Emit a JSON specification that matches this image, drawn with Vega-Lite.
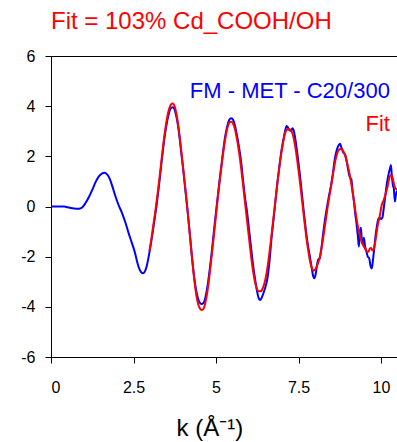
{
  "$schema": "https://vega.github.io/schema/vega-lite/v6.json",
  "autosize": "none",
  "width": 347,
  "height": 301,
  "padding": {"left": 51, "top": 56, "right": 0, "bottom": 85},
  "config": {
    "font": "Liberation Sans",
    "view": {"stroke": "black", "strokeWidth": 1},
    "axis": {
      "grid": false,
      "domainColor": "black",
      "tickColor": "black",
      "labelColor": "black",
      "titleColor": "black",
      "labelFont": "Liberation Sans",
      "titleFont": "Liberation Sans",
      "labelFontSize": 16,
      "tickSize": 6
    }
  },
  "title": {
    "text": "Fit = 103% Cd_COOH/OH",
    "anchor": "start",
    "frame": "group",
    "color": "#ff0000",
    "fontSize": 24,
    "fontWeight": "normal",
    "font": "Liberation Sans",
    "baseline": "alphabetic",
    "offset": -5
  },
  "datasets": {
    "measured": [
      {"k": 0.00, "chi": 0.00}, {"k": 0.20, "chi": 0.00}, {"k": 0.40, "chi": 0.00},
      {"k": 0.50, "chi": -0.03}, {"k": 0.60, "chi": -0.06}, {"k": 0.70, "chi": -0.08},
      {"k": 0.80, "chi": -0.09}, {"k": 0.88, "chi": -0.08}, {"k": 0.95, "chi": -0.03},
      {"k": 1.05, "chi": 0.15}, {"k": 1.15, "chi": 0.38}, {"k": 1.25, "chi": 0.66},
      {"k": 1.35, "chi": 0.97}, {"k": 1.45, "chi": 1.20}, {"k": 1.55, "chi": 1.32},
      {"k": 1.62, "chi": 1.35}, {"k": 1.70, "chi": 1.28}, {"k": 1.78, "chi": 1.10},
      {"k": 1.86, "chi": 0.80}, {"k": 1.95, "chi": 0.42}, {"k": 2.05, "chi": 0.05},
      {"k": 2.15, "chi": -0.25}, {"k": 2.25, "chi": -0.62}, {"k": 2.35, "chi": -1.05},
      {"k": 2.45, "chi": -1.45}, {"k": 2.55, "chi": -1.87}, {"k": 2.62, "chi": -2.25},
      {"k": 2.68, "chi": -2.50}, {"k": 2.74, "chi": -2.63}, {"k": 2.79, "chi": -2.66},
      {"k": 2.84, "chi": -2.60}, {"k": 2.90, "chi": -2.38}, {"k": 2.96, "chi": -2.00},
      {"k": 3.02, "chi": -1.55}, {"k": 3.08, "chi": -1.05}, {"k": 3.14, "chi": -0.50},
      {"k": 3.20, "chi": 0.05}, {"k": 3.26, "chi": 0.70}, {"k": 3.32, "chi": 1.40},
      {"k": 3.38, "chi": 2.10}, {"k": 3.44, "chi": 2.75}, {"k": 3.50, "chi": 3.25},
      {"k": 3.56, "chi": 3.65}, {"k": 3.62, "chi": 3.90}, {"k": 3.68, "chi": 3.96},
      {"k": 3.72, "chi": 3.93}, {"k": 3.78, "chi": 3.70}, {"k": 3.84, "chi": 3.30},
      {"k": 3.90, "chi": 2.70}, {"k": 3.96, "chi": 2.00}, {"k": 4.02, "chi": 1.30},
      {"k": 4.08, "chi": 0.55}, {"k": 4.14, "chi": -0.20}, {"k": 4.20, "chi": -1.00},
      {"k": 4.26, "chi": -1.85}, {"k": 4.32, "chi": -2.60}, {"k": 4.38, "chi": -3.20},
      {"k": 4.44, "chi": -3.60}, {"k": 4.50, "chi": -3.82}, {"k": 4.56, "chi": -3.89},
      {"k": 4.62, "chi": -3.85}, {"k": 4.68, "chi": -3.62}, {"k": 4.74, "chi": -3.20},
      {"k": 4.80, "chi": -2.62}, {"k": 4.86, "chi": -1.95}, {"k": 4.92, "chi": -1.20},
      {"k": 4.98, "chi": -0.45}, {"k": 5.04, "chi": 0.25}, {"k": 5.10, "chi": 0.95},
      {"k": 5.16, "chi": 1.60}, {"k": 5.22, "chi": 2.25}, {"k": 5.28, "chi": 2.80},
      {"k": 5.34, "chi": 3.20}, {"k": 5.40, "chi": 3.45}, {"k": 5.46, "chi": 3.52},
      {"k": 5.52, "chi": 3.45}, {"k": 5.58, "chi": 3.20}, {"k": 5.64, "chi": 2.80},
      {"k": 5.70, "chi": 2.35}, {"k": 5.76, "chi": 1.80}, {"k": 5.82, "chi": 1.05},
      {"k": 5.88, "chi": 0.35}, {"k": 5.94, "chi": -0.20}, {"k": 6.00, "chi": -0.90},
      {"k": 6.06, "chi": -1.60}, {"k": 6.12, "chi": -2.30}, {"k": 6.18, "chi": -2.85},
      {"k": 6.24, "chi": -3.35}, {"k": 6.30, "chi": -3.68}, {"k": 6.34, "chi": -3.73},
      {"k": 6.38, "chi": -3.65}, {"k": 6.44, "chi": -3.45}, {"k": 6.50, "chi": -3.20},
      {"k": 6.56, "chi": -2.85}, {"k": 6.62, "chi": -2.20}, {"k": 6.68, "chi": -1.30},
      {"k": 6.74, "chi": -0.55}, {"k": 6.80, "chi": 0.20}, {"k": 6.86, "chi": 0.95},
      {"k": 6.92, "chi": 1.60}, {"k": 6.98, "chi": 2.20}, {"k": 7.04, "chi": 2.65},
      {"k": 7.10, "chi": 3.05}, {"k": 7.14, "chi": 3.21}, {"k": 7.18, "chi": 3.15},
      {"k": 7.22, "chi": 3.05}, {"k": 7.27, "chi": 3.02}, {"k": 7.32, "chi": 3.12},
      {"k": 7.36, "chi": 3.00}, {"k": 7.42, "chi": 2.55}, {"k": 7.48, "chi": 1.95},
      {"k": 7.54, "chi": 1.30}, {"k": 7.60, "chi": 0.55}, {"k": 7.66, "chi": -0.20},
      {"k": 7.72, "chi": -0.90}, {"k": 7.78, "chi": -1.50}, {"k": 7.84, "chi": -1.95},
      {"k": 7.90, "chi": -2.45}, {"k": 7.95, "chi": -2.80}, {"k": 7.98, "chi": -2.86},
      {"k": 8.02, "chi": -2.70}, {"k": 8.06, "chi": -2.35}, {"k": 8.10, "chi": -2.10},
      {"k": 8.14, "chi": -2.08}, {"k": 8.18, "chi": -1.80}, {"k": 8.24, "chi": -1.15},
      {"k": 8.30, "chi": -0.55}, {"k": 8.36, "chi": -0.05}, {"k": 8.42, "chi": 0.40},
      {"k": 8.48, "chi": 0.80}, {"k": 8.54, "chi": 1.30}, {"k": 8.60, "chi": 1.90},
      {"k": 8.66, "chi": 2.25}, {"k": 8.72, "chi": 2.45}, {"k": 8.76, "chi": 2.50},
      {"k": 8.80, "chi": 2.35}, {"k": 8.86, "chi": 2.15}, {"k": 8.92, "chi": 2.05},
      {"k": 8.96, "chi": 1.80}, {"k": 9.02, "chi": 1.35}, {"k": 9.06, "chi": 1.15},
      {"k": 9.10, "chi": 1.10}, {"k": 9.14, "chi": 0.60}, {"k": 9.18, "chi": 0.20},
      {"k": 9.22, "chi": -0.30}, {"k": 9.26, "chi": -0.70}, {"k": 9.30, "chi": -1.20},
      {"k": 9.33, "chi": -1.60}, {"k": 9.36, "chi": -1.05}, {"k": 9.39, "chi": -0.85},
      {"k": 9.42, "chi": -1.35}, {"k": 9.45, "chi": -1.50}, {"k": 9.48, "chi": -1.25},
      {"k": 9.52, "chi": -1.60}, {"k": 9.56, "chi": -1.80}, {"k": 9.60, "chi": -2.00},
      {"k": 9.64, "chi": -2.05}, {"k": 9.68, "chi": -2.35}, {"k": 9.72, "chi": -2.47},
      {"k": 9.76, "chi": -2.10}, {"k": 9.80, "chi": -1.60}, {"k": 9.84, "chi": -1.10},
      {"k": 9.88, "chi": -0.75}, {"k": 9.92, "chi": -0.50}, {"k": 9.96, "chi": -0.45},
      {"k": 10.00, "chi": -0.50}, {"k": 10.04, "chi": -0.45}, {"k": 10.08, "chi": -0.10},
      {"k": 10.12, "chi": 0.30}, {"k": 10.16, "chi": 0.75}, {"k": 10.20, "chi": 1.10},
      {"k": 10.24, "chi": 1.35}, {"k": 10.27, "chi": 1.50}, {"k": 10.30, "chi": 1.65},
      {"k": 10.33, "chi": 1.20}, {"k": 10.36, "chi": 0.85}, {"k": 10.39, "chi": 0.70},
      {"k": 10.42, "chi": 0.20}, {"k": 10.45, "chi": 0.45}, {"k": 10.48, "chi": 0.60},
      {"k": 10.52, "chi": 0.65}
    ],
    "fit": [
      {"k": 2.98, "chi": -1.80}, {"k": 3.04, "chi": -1.30}, {"k": 3.10, "chi": -0.75},
      {"k": 3.16, "chi": -0.20}, {"k": 3.22, "chi": 0.40}, {"k": 3.28, "chi": 1.05},
      {"k": 3.34, "chi": 1.75}, {"k": 3.40, "chi": 2.45}, {"k": 3.46, "chi": 3.05},
      {"k": 3.52, "chi": 3.55}, {"k": 3.58, "chi": 3.90}, {"k": 3.64, "chi": 4.08},
      {"k": 3.69, "chi": 4.11}, {"k": 3.74, "chi": 4.02}, {"k": 3.80, "chi": 3.70},
      {"k": 3.86, "chi": 3.20}, {"k": 3.92, "chi": 2.55}, {"k": 3.98, "chi": 1.85},
      {"k": 4.04, "chi": 1.10}, {"k": 4.10, "chi": 0.35}, {"k": 4.16, "chi": -0.45},
      {"k": 4.22, "chi": -1.30}, {"k": 4.28, "chi": -2.15}, {"k": 4.34, "chi": -2.90},
      {"k": 4.40, "chi": -3.50}, {"k": 4.46, "chi": -3.90}, {"k": 4.52, "chi": -4.08},
      {"k": 4.58, "chi": -4.13}, {"k": 4.64, "chi": -4.02}, {"k": 4.70, "chi": -3.70},
      {"k": 4.76, "chi": -3.20}, {"k": 4.82, "chi": -2.55}, {"k": 4.88, "chi": -1.85},
      {"k": 4.94, "chi": -1.10}, {"k": 5.00, "chi": -0.35}, {"k": 5.06, "chi": 0.40},
      {"k": 5.12, "chi": 1.10}, {"k": 5.18, "chi": 1.75}, {"k": 5.24, "chi": 2.35},
      {"k": 5.30, "chi": 2.85}, {"k": 5.36, "chi": 3.20}, {"k": 5.42, "chi": 3.37},
      {"k": 5.47, "chi": 3.38}, {"k": 5.52, "chi": 3.30}, {"k": 5.58, "chi": 3.05},
      {"k": 5.64, "chi": 2.65}, {"k": 5.70, "chi": 2.15}, {"k": 5.76, "chi": 1.55},
      {"k": 5.82, "chi": 0.85}, {"k": 5.88, "chi": 0.15}, {"k": 5.94, "chi": -0.55},
      {"k": 6.00, "chi": -1.25}, {"k": 6.06, "chi": -1.95}, {"k": 6.12, "chi": -2.55},
      {"k": 6.18, "chi": -3.00}, {"k": 6.24, "chi": -3.28}, {"k": 6.30, "chi": -3.38},
      {"k": 6.36, "chi": -3.38}, {"k": 6.42, "chi": -3.25}, {"k": 6.48, "chi": -3.00},
      {"k": 6.54, "chi": -2.60}, {"k": 6.60, "chi": -2.05}, {"k": 6.66, "chi": -1.40},
      {"k": 6.72, "chi": -0.70}, {"k": 6.78, "chi": 0.00}, {"k": 6.84, "chi": 0.70},
      {"k": 6.90, "chi": 1.35}, {"k": 6.96, "chi": 1.95}, {"k": 7.02, "chi": 2.45},
      {"k": 7.08, "chi": 2.85}, {"k": 7.14, "chi": 3.05}, {"k": 7.20, "chi": 3.09},
      {"k": 7.26, "chi": 3.05}, {"k": 7.32, "chi": 2.90}, {"k": 7.38, "chi": 2.55},
      {"k": 7.44, "chi": 2.05}, {"k": 7.50, "chi": 1.45}, {"k": 7.56, "chi": 0.80},
      {"k": 7.62, "chi": 0.10}, {"k": 7.68, "chi": -0.60}, {"k": 7.74, "chi": -1.25},
      {"k": 7.80, "chi": -1.80}, {"k": 7.86, "chi": -2.25}, {"k": 7.92, "chi": -2.50},
      {"k": 7.96, "chi": -2.56}, {"k": 8.02, "chi": -2.48}, {"k": 8.08, "chi": -2.30},
      {"k": 8.14, "chi": -2.05}, {"k": 8.20, "chi": -1.65}, {"k": 8.26, "chi": -1.15},
      {"k": 8.32, "chi": -0.60}, {"k": 8.38, "chi": -0.05}, {"k": 8.44, "chi": 0.45},
      {"k": 8.50, "chi": 0.90}, {"k": 8.56, "chi": 1.40}, {"k": 8.62, "chi": 1.85},
      {"k": 8.68, "chi": 2.15}, {"k": 8.74, "chi": 2.28}, {"k": 8.80, "chi": 2.30},
      {"k": 8.86, "chi": 2.20}, {"k": 8.92, "chi": 2.00}, {"k": 8.98, "chi": 1.70},
      {"k": 9.04, "chi": 1.35}, {"k": 9.10, "chi": 0.90}, {"k": 9.16, "chi": 0.40},
      {"k": 9.22, "chi": -0.15}, {"k": 9.28, "chi": -0.65}, {"k": 9.34, "chi": -1.05},
      {"k": 9.40, "chi": -1.35}, {"k": 9.46, "chi": -1.55}, {"k": 9.52, "chi": -1.68},
      {"k": 9.58, "chi": -1.80}, {"k": 9.62, "chi": -1.80}, {"k": 9.66, "chi": -1.68},
      {"k": 9.70, "chi": -1.65}, {"k": 9.74, "chi": -1.75}, {"k": 9.78, "chi": -1.70},
      {"k": 9.84, "chi": -1.30}, {"k": 9.90, "chi": -0.75}, {"k": 9.96, "chi": -0.40},
      {"k": 10.02, "chi": 0.05}, {"k": 10.08, "chi": 0.25}, {"k": 10.14, "chi": 0.50},
      {"k": 10.20, "chi": 0.80}, {"k": 10.25, "chi": 1.13}, {"k": 10.30, "chi": 1.26},
      {"k": 10.35, "chi": 1.15}, {"k": 10.40, "chi": 0.85}, {"k": 10.45, "chi": 0.70},
      {"k": 10.50, "chi": 0.68}
    ],
    "labels": [
      {"k": 10.27, "chi": 4.33, "name": "FM - MET - C20/300", "series": "measured"},
      {"k": 10.27, "chi": 3.02, "name": "Fit", "series": "fit"}
    ]
  },
  "encoding": {
    "x": {
      "field": "k",
      "type": "quantitative",
      "scale": {"domain": [0, 10.515], "nice": false, "zero": false},
      "axis": {
        "values": [0, 2.5, 5, 7.5, 10],
        "labelExpr": "'' + datum.value",
        "labelPadding": 16,
        "title": "k (Å⁻¹)",
        "titleFontSize": 24,
        "titleFontWeight": "normal",
        "titleAlign": "left",
        "titleAnchor": null,
        "titleX": 125,
        "titleY": 78,
        "titleBaseline": "alphabetic"
      }
    },
    "y": {
      "field": "chi",
      "type": "quantitative",
      "scale": {"domain": [-6, 6], "nice": false, "zero": false},
      "axis": {
        "values": [-6, -4, -2, 0, 2, 4, 6],
        "labelExpr": "'' + datum.value",
        "labelPadding": 10,
        "title": null
      }
    }
  },
  "layer": [
    {
      "data": {"name": "measured"},
      "mark": {"type": "line", "color": "#0000ff", "strokeWidth": 2, "interpolate": "monotone", "clip": true}
    },
    {
      "data": {"name": "fit"},
      "mark": {"type": "line", "color": "#ff0000", "strokeWidth": 2, "interpolate": "monotone", "clip": true}
    },
    {
      "data": {"name": "labels"},
      "mark": {"type": "text", "align": "right", "baseline": "alphabetic", "fontSize": 22, "font": "Liberation Sans"},
      "encoding": {
        "text": {"field": "name"},
        "color": {
          "field": "series",
          "type": "nominal",
          "scale": {"domain": ["measured", "fit"], "range": ["#0000ff", "#ff0000"]},
          "legend": null
        }
      }
    }
  ]
}
